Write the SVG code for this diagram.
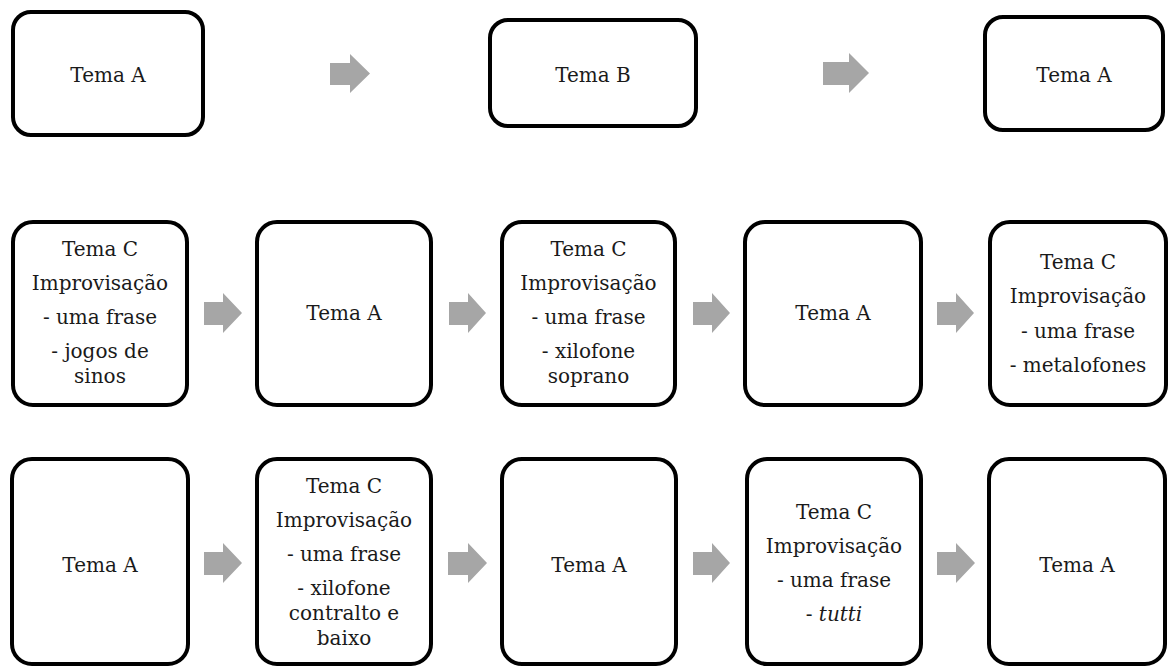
<svg xmlns="http://www.w3.org/2000/svg" width="1169" height="666" viewBox="0 0 1169 666">
<style>
.box{fill:#fff;stroke:#000;stroke-width:4}
.arr{fill:#a6a6a6}
text{font-family:"DejaVu Serif","Liberation Serif",serif;font-size:20px;fill:#1a1a1a;text-anchor:middle}
</style>
<rect width="1169" height="666" fill="#fff"/>
<g id="connectors">
<path class="arr" d="M330,63H350V54L370,73.5L350,93V85H330Z"/>
<path class="arr" d="M823,62H849V53L869,73L849,93V85H823Z"/>
<path class="arr" d="M204,302H223V293L242,313L223,333V325H204Z"/>
<path class="arr" d="M449,302H468V293L486,313L468,333V325H449Z"/>
<path class="arr" d="M693,302H712V293L730,313L712,333V325H693Z"/>
<path class="arr" d="M937,302H956V293L974,313L956,333V325H937Z"/>
<path class="arr" d="M204,552H223V543L242,563L223,583V575H204Z"/>
<path class="arr" d="M448,552H468V543L487,563L468,583V575H448Z"/>
<path class="arr" d="M693,552H712V543L730,563L712,583V575H693Z"/>
<path class="arr" d="M937,552H956V543L975,563L956,583V575H937Z"/>
</g>
<g id="n1"><rect class="box" x="13" y="12" width="190" height="123" rx="18"/><text x="108" y="82">Tema A</text></g>
<g id="n2"><rect class="box" x="490" y="20" width="206" height="106" rx="18"/><text x="593" y="82">Tema B</text></g>
<g id="n3"><rect class="box" x="985" y="17" width="178" height="113" rx="18"/><text x="1074" y="82">Tema A</text></g>
<g id="n4"><rect class="box" x="13" y="222" width="174" height="183" rx="20"/>
<text x="100" y="256">Tema C</text><text x="100" y="290">Improvisação</text><text x="100" y="324">- uma frase</text><text x="100" y="358">- jogos de</text><text x="100" y="383">sinos</text></g>
<g id="n5"><rect class="box" x="257" y="222" width="174" height="183" rx="20"/><text x="344" y="320">Tema A</text></g>
<g id="n6"><rect class="box" x="502" y="222" width="173" height="183" rx="20"/>
<text x="588.5" y="256">Tema C</text><text x="588.5" y="290">Improvisação</text><text x="588.5" y="324">- uma frase</text><text x="588.5" y="358">- xilofone</text><text x="588.5" y="383">soprano</text></g>
<g id="n7"><rect class="box" x="745" y="222" width="176" height="183" rx="20"/><text x="833" y="320">Tema A</text></g>
<g id="n8"><rect class="box" x="990" y="222" width="176" height="183" rx="20"/>
<text x="1078" y="269">Tema C</text><text x="1078" y="303">Improvisação</text><text x="1078" y="338">- uma frase</text><text x="1078" y="372">- metalofones</text></g>
<g id="n9"><rect class="box" x="12" y="459" width="176" height="205" rx="20"/><text x="100" y="572">Tema A</text></g>
<g id="n10"><rect class="box" x="257" y="459" width="174" height="205" rx="20"/>
<text x="344" y="493">Tema C</text><text x="344" y="527">Improvisação</text><text x="344" y="561">- uma frase</text><text x="344" y="595">- xilofone</text><text x="344" y="620">contralto e</text><text x="344" y="645">baixo</text></g>
<g id="n11"><rect class="box" x="502" y="459" width="174" height="205" rx="20"/><text x="589" y="572">Tema A</text></g>
<g id="n12"><rect class="box" x="747" y="459" width="174" height="205" rx="20"/>
<text x="834" y="519">Tema C</text><text x="834" y="553">Improvisação</text><text x="834" y="587">- uma frase</text><text x="834" y="621">- <tspan font-style="italic">tutti</tspan></text></g>
<g id="n13"><rect class="box" x="989" y="459" width="176" height="205" rx="20"/><text x="1077" y="572">Tema A</text></g>
</svg>
